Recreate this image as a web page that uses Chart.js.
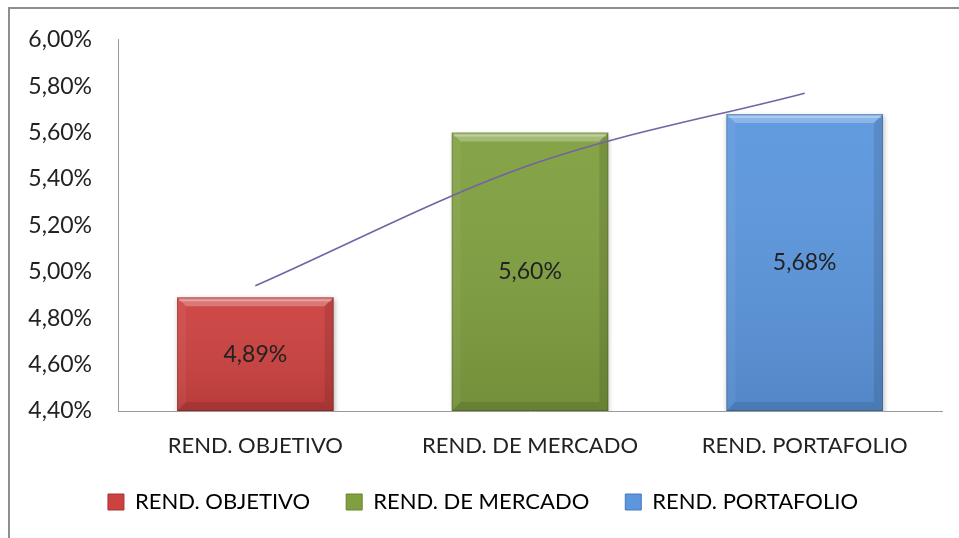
<!DOCTYPE html>
<html lang="es">
<head>
<meta charset="UTF-8">
<title>Rendimientos</title>
<script src="https://cdn.jsdelivr.net/npm/chart.js@4.4.6/dist/chart.umd.min.js"></script>
<style>
  html, body { margin: 0; padding: 0; background: #fff; }
  .wrap { position: relative; width: 959px; height: 538px; overflow: hidden; }
  .frame {
    position: absolute; left: 8px; top: 7px; right: -4px; bottom: -4px;
    border-top: 2px solid #8e8e8e; border-left: 2px solid #8e8e8e;
    pointer-events: none;
  }
  canvas { display: block; }
</style>
</head>
<body>
<div class="wrap">
  <canvas id="chart" width="959" height="538"></canvas>
  <div class="frame"></div>
</div>
<script>
// ── Data ────────────────────────────────────────────────────────────────────
const categories = ['REND. OBJETIVO', 'REND. DE MERCADO', 'REND. PORTAFOLIO'];
const returns    = [4.89, 5.60, 5.68];
const trend      = [4.94, 5.46, 5.77];   // tendencia (línea morada)
const yMin = 4.40, yMax = 6.00, yStep = 0.20;

const barColors  = ['#cc4240', '#80a040', '#5c97de'];
const edgeColors = ['#a83232', '#66822f', '#4679bf'];
const FONT = 'Lato, "Open Sans", sans-serif';
const FS = 22;      // categorías y leyenda
const FS_NUM = 23;  // porcentajes

const pct = v => v.toFixed(2).replace('.', ',') + '%';

// ── Plugins ─────────────────────────────────────────────────────────────────
const barBevel = {
  id: 'barBevel',
  beforeDatasetDraw(chart, args) {
    if (args.meta.type !== 'bar') return;
    const ctx = chart.ctx;
    ctx.save();
    ctx.shadowColor = 'rgba(0,0,0,0.28)';
    ctx.shadowBlur = 5;
    ctx.shadowOffsetX = 1;
    ctx.shadowOffsetY = 2;
  },
  afterDatasetDraw(chart, args) {
    if (args.meta.type !== 'bar') return;
    const ctx = chart.ctx;
    ctx.restore();
    const area = chart.chartArea;
    ctx.save();
    ctx.beginPath();
    ctx.rect(area.left, area.top, area.right - area.left, area.bottom - area.top);
    ctx.clip();
    args.meta.data.forEach(bar => {
      const L = bar.x - bar.width / 2, R = bar.x + bar.width / 2;
      const T = bar.y, B = Math.min(bar.base, area.bottom), d = 9;
      const g = ctx.createLinearGradient(0, T, 0, B);
      g.addColorStop(0, 'rgba(255,255,255,0.04)');
      g.addColorStop(1, 'rgba(0,0,0,0.10)');
      ctx.fillStyle = g;
      ctx.fillRect(L, T, R - L, B - T);
      const poly = (pts, fill) => {
        ctx.beginPath();
        ctx.moveTo(pts[0][0], pts[0][1]);
        pts.slice(1).forEach(p => ctx.lineTo(p[0], p[1]));
        ctx.closePath();
        ctx.fillStyle = fill;
        ctx.fill();
      };
      poly([[L, T], [R, T], [R - d, T + d], [L + d, T + d]], 'rgba(255,255,255,0.26)');
      poly([[L, T], [L + d, T + d], [L + d, B - d], [L, B]], 'rgba(255,255,255,0.05)');
      poly([[R, T], [R, B], [R - d, B - d], [R - d, T + d]], 'rgba(0,0,0,0.10)');
      poly([[L, B], [L + d, B - d], [R - d, B - d], [R, B]], 'rgba(0,0,0,0.10)');
      ctx.fillStyle = 'rgba(255,255,255,0.30)';
      ctx.fillRect(L + 2, T + 2, R - L - 4, 2);
      ctx.strokeStyle = 'rgba(0,0,0,0.18)';
      ctx.lineWidth = 1;
      ctx.strokeRect(L + 0.5, T + 0.5, R - L - 1, B - T - 1);
    });
    ctx.restore();
  },
};

const barLabels = {
  id: 'barLabels',
  afterDatasetsDraw(chart) {
    const ctx = chart.ctx;
    const bottom = chart.chartArea.bottom;
    chart.data.datasets.forEach((ds, i) => {
      const meta = chart.getDatasetMeta(i);
      if (meta.type !== 'bar') return;
      meta.data.forEach((bar, j) => {
        ctx.save();
        ctx.font = FS_NUM + 'px ' + FONT;
        ctx.fillStyle = '#222';
        ctx.textAlign = 'center';
        ctx.textBaseline = 'middle';
        ctx.fillText(pct(ds.data[j]), bar.x, (bar.y + Math.min(bar.base, bottom)) / 2);
        ctx.restore();
      });
    });
  },
};

// ── Chart ───────────────────────────────────────────────────────────────────
Chart.defaults.font.family = FONT;
Chart.defaults.color = '#222';

new Chart(document.getElementById('chart'), {
  type: 'bar',
  data: {
    labels: categories,
    datasets: [
      {
        type: 'line',
        label: 'Tendencia',
        data: trend,
        borderColor: '#7462a2',
        borderWidth: 1.6,
        pointRadius: 0,
        cubicInterpolationMode: 'monotone',
        order: 0,
      },
      {
        type: 'bar',
        label: 'Rendimiento',
        data: returns,
        backgroundColor: barColors,
        borderWidth: 0,
        barPercentage: 1,
        categoryPercentage: 0.57,
        order: 1,
      },
    ],
  },
  options: {
    responsive: false,
    animation: false,
    layout: { padding: { left: 24, right: 17, top: 38, bottom: 15 } },
    plugins: {
      tooltip: { enabled: false },
      legend: {
        position: 'bottom',
        labels: {
          font: { size: FS },
          color: '#222',
          boxWidth: 16,
          boxHeight: 16,
          padding: 36,
          generateLabels: () => categories.map((c, i) => ({
            text: c,
            fillStyle: barColors[i],
            strokeStyle: edgeColors[i],
            lineWidth: 1,
            hidden: false,
            index: i,
          })),
        },
      },
    },
    scales: {
      x: {
        grid: { display: false, drawTicks: false },
        border: { display: true, color: '#9a9a9a', width: 1 },
        ticks: { font: { size: FS }, padding: 22, maxRotation: 0 },
        afterFit: s => { s.height = 44; },
      },
      y: {
        min: yMin,
        max: yMax,
        grid: { display: false, drawTicks: false },
        border: { display: true, color: '#9a9a9a', width: 1 },
        ticks: {
          stepSize: yStep,
          font: { size: FS_NUM },
          padding: 26,
          callback: v => pct(v),
        },
        afterFit: s => { s.width = 94; },
      },
    },
  },
  plugins: [barBevel, barLabels],
});
</script>
</body>
</html>
